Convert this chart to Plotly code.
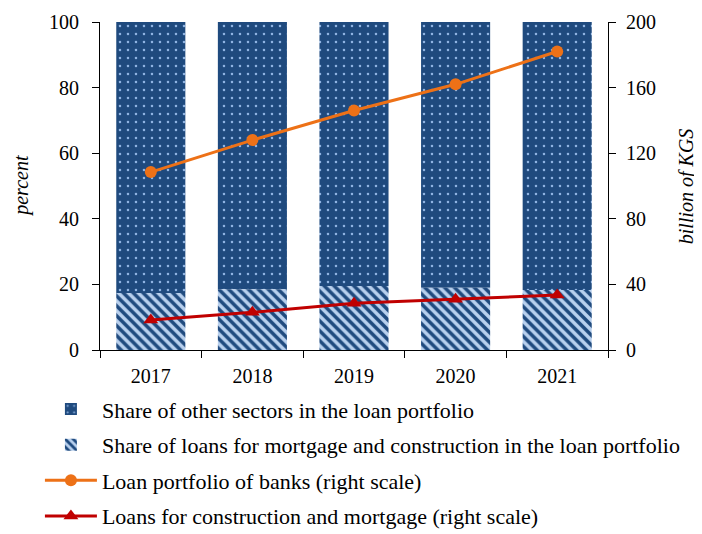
import plotly.graph_objects as go

years = ["2017", "2018", "2019", "2020", "2021"]
share_mortgage = [17.4, 18.5, 19.5, 19.0, 18.3]
share_other = [100 - v for v in share_mortgage]
loan_portfolio = [108.5, 128, 146, 162, 182]
loans_construction = [18.3, 23.0, 28.5, 31.0, 33.5]

dark = "#1f4a7e"
light = "#b8d0ee"
font_family = "Liberation Serif"

fig = go.Figure()
fig.add_trace(go.Bar(
    x=years, y=share_other, name="Share of other sectors in the loan portfolio",
    marker=dict(color=dark, line=dict(width=0),
                pattern=dict(shape=".", fgcolor="#8fb4e3", bgcolor=dark, size=8, solidity=0.08, fillmode="replace")),
    legendrank=1, legendgroup="g1", base=share_mortgage, width=0.68, offsetgroup="a",
))
fig.add_trace(go.Bar(
    x=years, y=share_mortgage, name="Share of loans for mortgage and construction in the loan portfolio",
    marker=dict(color=light, line=dict(width=0),
                pattern=dict(shape="\\", fgcolor=dark, bgcolor=light, size=7, solidity=0.5, fillmode="replace")),
    legendrank=2, legendgroup="g2", width=0.68, offsetgroup="a",
))
fig.add_trace(go.Scatter(
    x=years, y=loan_portfolio, name="Loan portfolio of banks (right scale)", yaxis="y2",
    mode="lines+markers", line=dict(color="#ed7117", width=3),
    marker=dict(symbol="circle", size=12, color="#ed7117"), legendrank=3, legendgroup="g3",
))
fig.add_trace(go.Scatter(
    x=years, y=loans_construction, name="Loans for construction and mortgage (right scale)", yaxis="y2",
    mode="lines+markers", line=dict(color="#c00000", width=3),
    marker=dict(symbol="triangle-up", size=13, color="#c00000"), legendrank=4, legendgroup="g4",
))

fig.update_layout(
    width=694, height=526,
    margin=dict(l=92, r=94, t=14, b=184, autoexpand=False),
    plot_bgcolor="white", paper_bgcolor="white",
    font=dict(family=font_family, size=20, color="black"),
    barmode="overlay",
    showlegend=True,
    legend=dict(x=0.046, y=0.277, xref="container", yref="container", xanchor="left", yanchor="top",
                orientation="v",
                font=dict(size=22, family=font_family), itemwidth=52,
                tracegroupgap=4, traceorder="grouped", bgcolor="rgba(0,0,0,0)"),
    xaxis=dict(showline=True, linecolor="black", linewidth=1, ticks="outside", ticklen=7,
               tickson="boundaries", tickcolor="black", showgrid=False, type="category",
               ticklabelstandoff=8, tickfont=dict(size=20)),
    yaxis=dict(range=[0, 100], dtick=20, showline=True, linecolor="black", linewidth=1,
               ticks="outside", ticklen=7, tickcolor="black", showgrid=False, zeroline=False,
               ticklabelstandoff=9),
    yaxis2=dict(range=[0, 200], dtick=40, overlaying="y", side="right", showline=True,
                linecolor="black", linewidth=1, ticks="outside", ticklen=7, tickcolor="black",
                showgrid=False, zeroline=False, ticklabelstandoff=6),
    annotations=[
        dict(text="<i>percent</i>", xref="paper", yref="paper", x=-0.156, y=0.5,
             xanchor="center", yanchor="middle", textangle=-90, showarrow=False,
             font=dict(size=20, family=font_family)),
        dict(text="<i>billion of KGS</i>", xref="paper", yref="paper", x=1.154, y=0.5,
             xanchor="center", yanchor="middle", textangle=-90, showarrow=False,
             font=dict(size=20, family=font_family)),
    ],
)

fig.write_html("out.html")
